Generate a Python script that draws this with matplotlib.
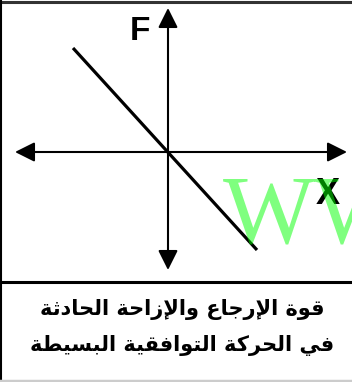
import matplotlib
matplotlib.use("Agg")
import matplotlib.pyplot as plt

# restoring force vs displacement (pixel-ish units, origin at the axes cross)
disp = [-95, 89]
force = [104, -98]

title_lines = ["قوة الإرجاع والإزاحة الحادثة", "في الحركة التوافقية البسيطة"]

# minimal arabic shaping (matplotlib has no bidi / joining support)
DUAL = {'ب': 0xFE8F, 'ت': 0xFE95, 'ث': 0xFE99, 'ج': 0xFE9D, 'ح': 0xFEA1,
        'س': 0xFEB1, 'ط': 0xFEC1, 'ع': 0xFEC9, 'ف': 0xFED1, 'ق': 0xFED5,
        'ك': 0xFED9, 'ل': 0xFEDD, 'ي': 0xFEF1}
RIGHT = {'ا': 0xFE8D, 'إ': 0xFE87, 'ة': 0xFE93, 'د': 0xFEA9, 'ر': 0xFEAD,
         'ز': 0xFEAF, 'و': 0xFEED}
LAMALEF = {'ا': 0xFEFB, 'إ': 0xFEF9}


def kind(t):
    if isinstance(t, tuple):
        return 'R'
    if t in DUAL:
        return 'D'
    if t in RIGHT:
        return 'R'
    return None


def shape(text):
    toks = []
    i = 0
    while i < len(text):
        c = text[i]
        if c == 'ل' and i + 1 < len(text) and text[i + 1] in LAMALEF:
            toks.append(('LA', text[i + 1]))
            i += 2
        else:
            toks.append(c)
            i += 1
    out = []
    for j, t in enumerate(toks):
        k = kind(t)
        prev = kind(toks[j - 1]) if j > 0 else None
        nxt = kind(toks[j + 1]) if j + 1 < len(toks) else None
        jp = prev == 'D' and k is not None
        jn = k == 'D' and nxt is not None
        if isinstance(t, tuple):
            out.append(chr(LAMALEF[t[1]] + (1 if jp else 0)))
        elif k == 'D':
            out.append(chr(DUAL[t] + (3 if jp and jn else 2 if jn else 1 if jp else 0)))
        elif k == 'R':
            out.append(chr(RIGHT[t] + (1 if jp else 0)))
        else:
            out.append(t)
    return ''.join(reversed(out))


fig = plt.figure(figsize=(3.52, 3.82), dpi=100)
ax = fig.add_axes([0, 0, 1, 1])
ax.set_xlim(-168, 184)
ax.set_ylim(-230, 152)
ax.axis('off')

arrow = dict(arrowstyle='<|-|>,head_length=0.4,head_width=0.2', color='black',
             lw=1.5, mutation_scale=30, shrinkA=0, shrinkB=0)
ax.annotate('', xy=(179, 0), xytext=(-153, 0), arrowprops=arrow)
ax.annotate('', xy=(0, 144), xytext=(0, -118), arrowprops=arrow)

ax.plot(disp, force, color='black', lw=2.3, solid_capstyle='butt')

ax.text(-28, 121, 'F', fontsize=24, fontweight='bold', ha='center', va='center',
        family='Liberation Sans')
ax.text(160, -42, 'X', fontsize=26, fontweight='bold', ha='center', va='center',
        family='Liberation Sans')
# watermark
ax.text(55, -91, 'WW', fontsize=70, color='#00FF00', alpha=0.5, ha='left',
        va='baseline', family='Liberation Serif', zorder=5)

# frame and separator
ax.axhline(150.5, color='#333333', lw=2.2)
ax.axvline(-167, color='black', lw=1.5)
ax.axhline(-130, color='black', lw=2.2)
ax.axhline(-228.5, color='#cccccc', lw=2.5)

ax.text(14, -157, shape(title_lines[0]), fontsize=15, fontweight='bold',
        ha='center', va='center', family='DejaVu Sans')
ax.text(14, -193, shape(title_lines[1]), fontsize=15, fontweight='bold',
        ha='center', va='center', family='DejaVu Sans')

fig.savefig('out.png', dpi=100)
